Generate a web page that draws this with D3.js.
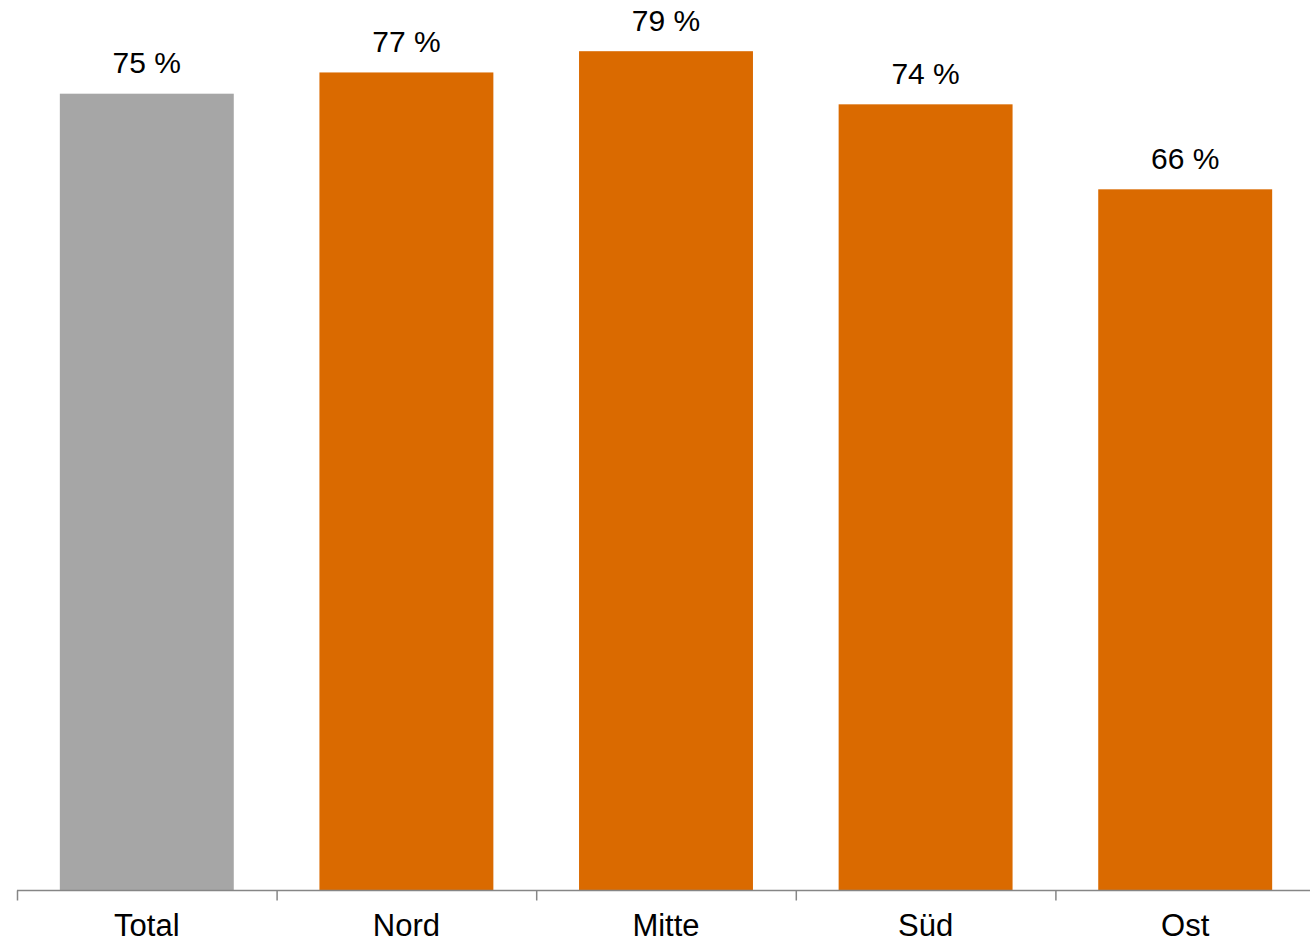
<!DOCTYPE html>
<html><head><meta charset="utf-8">
<script src="https://cdn.jsdelivr.net/npm/d3@7"></script>
<style>body{margin:0;background:#fff}svg{display:block}</style>
</head><body>
<script>
const categories = ["Total", "Nord", "Mitte", "Süd", "Ost"];
const values = [75, 77, 79, 74, 66];
const barColors = ["#A6A6A6", "#DA6A00", "#DA6A00", "#DA6A00", "#DA6A00"];

const W = 1310, H = 943;
const svg = d3.select("body").append("svg").attr("width", W).attr("height", H);
const baseY = 890.5;
const x = d3.scaleBand().domain(categories).range([17, 1315]).paddingInner(0.33).paddingOuter(0.165);
const y = d3.scaleLinear().domain([0, 100]).range([baseY, baseY - 1062.4]);

svg.selectAll("rect.bar").data(categories).join("rect")
  .attr("x", d => x(d)).attr("width", x.bandwidth())
  .attr("y", (d, i) => y(values[i])).attr("height", (d, i) => baseY - y(values[i]))
  .attr("fill", (d, i) => barColors[i]);

svg.selectAll("text.val").data(categories).join("text")
  .attr("x", d => x(d) + x.bandwidth() / 2)
  .attr("y", (d, i) => y(values[i]) - 20.5)
  .attr("text-anchor", "middle")
  .attr("font-family", "Liberation Sans, Arial, sans-serif")
  .attr("font-size", 30).attr("fill", "#000")
  .text((d, i) => values[i] + " %");

const step = x.step();
const axisG = svg.append("g");
axisG.append("line").attr("x1", 17).attr("x2", 1315).attr("y1", baseY).attr("y2", baseY)
  .attr("stroke", "#868686").attr("stroke-width", 1.5);
categories.concat(["_end"]).forEach((c, i) => {
  const tx = 17.5 + i * step;
  axisG.append("line").attr("x1", tx).attr("x2", tx).attr("y1", baseY).attr("y2", baseY + 10)
    .attr("stroke", "#868686").attr("stroke-width", 1.5);
});
axisG.selectAll("text.cat").data(categories).join("text")
  .attr("x", d => x(d) + x.bandwidth() / 2).attr("y", 936)
  .attr("text-anchor", "middle")
  .attr("font-family", "Liberation Sans, Arial, sans-serif")
  .attr("font-size", 31).attr("fill", "#000")
  .text(d => d);
</script>
</body></html>
